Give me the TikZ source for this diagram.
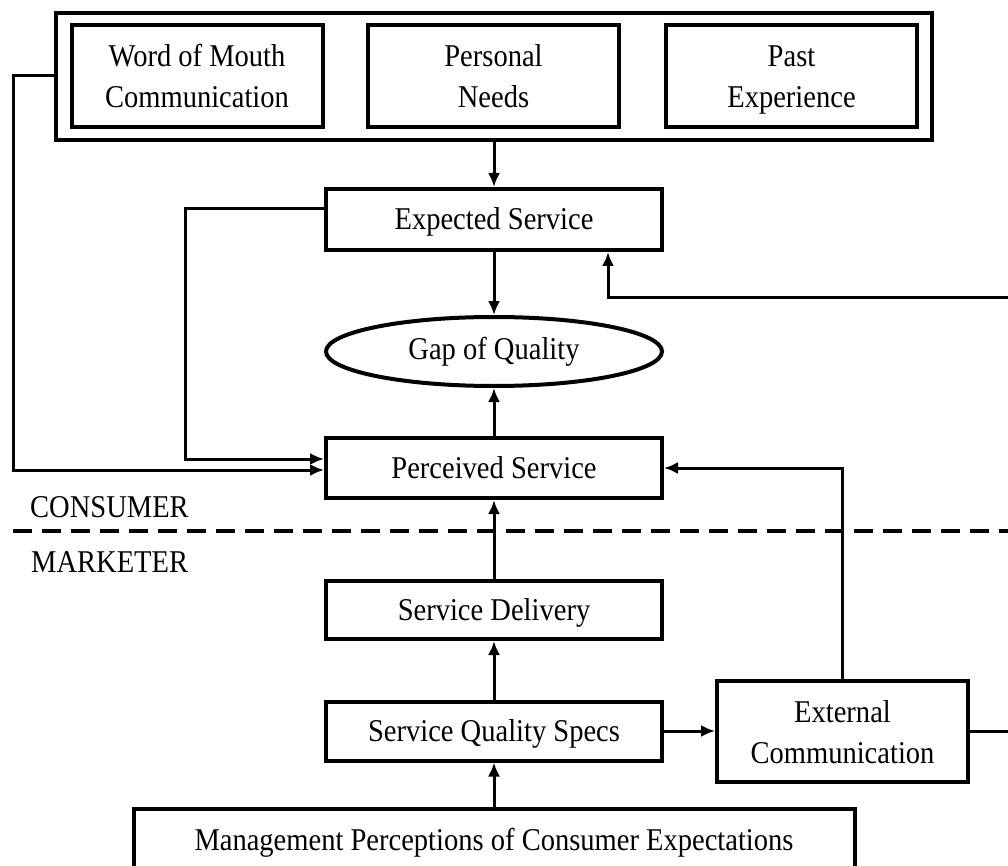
\documentclass[tikz,border=0pt]{standalone}
\usepackage{fontspec}
\setmainfont[FakeStretch=0.9]{Liberation Serif}
\usepackage{tikz}
\usetikzlibrary{shapes.geometric,arrows.meta}
\newcommand{\twolines}[2]{\rule{0pt}{29pt}#1\\#2\rule[-6pt]{0pt}{6pt}}
\tikzstyle{stage} = [draw,line width=4pt,inner sep=0pt,align=center,minimum width=336pt,minimum height=60pt,text height=27pt,text depth=7pt]
\tikzstyle{source} = [draw,line width=4pt,inner sep=0pt,align=center,minimum width=251pt,minimum height=102pt]
\tikzstyle{gap} = [ellipse,draw,line width=4pt,inner sep=0pt,minimum width=336pt,minimum height=69pt]
\tikzstyle{flow} = [line width=3pt,-{Latex[length=14pt,width=12pt]}]
\tikzstyle{link} = [line width=3pt]

\begin{document}
\begin{tikzpicture}[x=1pt,y=-1pt,font=\fontsize{31.7}{41}\selectfont]
%\draw[help lines] (0,0) grid[step=50] (1008,866);
\useasboundingbox (0,0) rectangle (1008,866);
\clip (0,0) rectangle (1008,866);
\node[draw,line width=4pt,minimum width=876pt,minimum height=127pt] (sources) at (494,76.5) {};
\node[source] (mouth) at (197,76) {\twolines{Word of Mouth}{Communication}};
\node[source] (needs) at (493.5,76) {\twolines{Personal}{Needs}};
\node[source] (past) at (791.5,76) {\twolines{Past}{Experience}};
\node[stage,minimum height=61pt] (expected) at (494,219.5) {Expected Service};
\node[gap] (quality) at (494,351.5) {Gap of Quality};
\node[stage] (perceived) at (494,468) {Perceived Service};
\node[stage,minimum height=58pt] (delivery) at (494,610) {Service Delivery};
\node[stage,minimum height=59pt] (specs) at (494,731) {Service Quality Specs};
\node[source,minimum height=101pt] (external) at (842.5,731.5) {\twolines{External}{Communication}};
\node[stage,minimum width=721pt,minimum height=62pt] (management) at (494,840) {Management Perceptions of Consumer Expectations};
\node[anchor=west,inner sep=0pt] (consumer) at (30,507) {CONSUMER};
\node[anchor=west,inner sep=0pt] (marketer) at (31,562) {MARKETER};
\coordinate (feedback) at (1008,297);
\coordinate (outflow) at (1008,731.5);
\draw[line width=4pt,dash pattern=on 19pt off 10pt] (13,531) -- (1008,531);

\draw[flow] (sources.south) -- (expected.north);
\draw[flow] (expected.south) -- (quality.north);
\draw[flow] (perceived.north) -- (quality.south);
\draw[flow] (delivery.north) -- (perceived.south);
\draw[flow] (specs.north) -- (delivery.south);
\draw[flow] (management.north) -- (specs.south);
\draw[flow] (specs.east) -- (specs.east -| external.west);
\draw[flow] (sources.west |- 0,76) -- (13,76) -- (13,470) -- (perceived.west |- 0,470);
\draw[flow] (expected.west |- 0,209) -- (185,209) -- (185,459) -- (perceived.west |- 0,459);
\draw[flow] (feedback) -- (608,297) -- (expected.south -| 608,0);
\draw[flow] (external.north) |- (perceived.east);
\draw[link] (external.east) -- (outflow);
\end{tikzpicture}
\end{document}
